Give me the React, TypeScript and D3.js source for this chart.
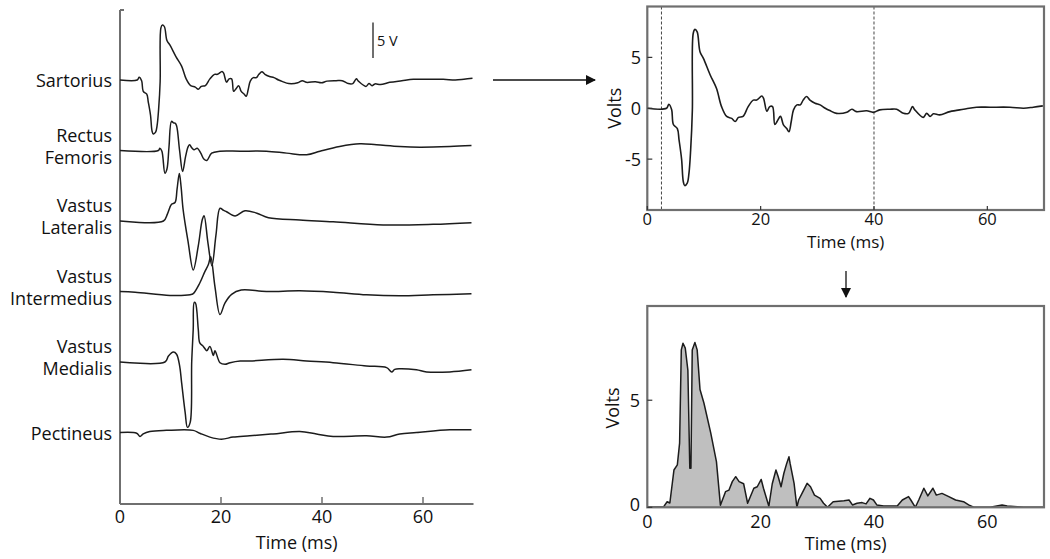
import React from "react";
import * as d3 from "d3";

type P = [number, number];

// Sartorius (also the single trace shown top-right), time in ms, volts
const sartorius: P[] = [
  [0, 0], [3.4, 0], [3.8, 0.4], [4.3, -0.15], [4.6, -1.6], [5.3, -2.0], [5.6, -3.1], [6.05, -5], [6.35, -7.2],
  [6.6, -7.6], [7.05, -7.35], [7.35, -6.4], [7.65, -4.1], [7.95, -0.2], [8.1, 7.35], [8.4, 7.75], [8.8, 7.5],
  [9.3, 5.55], [9.9, 4.9], [11.1, 3.27], [12.2, 1.96], [13.1, 0.16], [14, -0.8], [14.9, -1.0], [15.5, -1.3],
  [16.1, -0.9], [16.9, -0.8], [17.8, 0.16], [18.7, 0.8], [19.3, 0.8], [20.2, 1.2], [20.5, 1.0], [21.1, -0.3],
  [21.6, 0.16], [22.1, 0.16], [22.5, -1.6], [22.9, -1.3], [23.5, -0.8], [24, -1.6], [24.6, -2.0], [25, -2.3],
  [25.4, -1.3], [25.8, -0.16], [26.4, 0.33], [27, 0.33], [27.5, 0.8], [28.1, 1.15], [28.7, 0.8], [29.6, 0.5],
  [30.5, 0.33], [31.4, 0], [32.2, -0.23], [33.4, -0.5], [35.2, -0.4], [36.1, -0.1], [36.9, -0.33], [38.7, -0.25],
  [39.9, -0.4], [41, -0.16], [42.8, -0.1], [44, -0.1], [45.2, -0.5], [46.1, -0.5], [46.8, 0.16], [47.2, -0.16],
  [48.7, -0.9], [49.3, -0.5], [49.9, -0.8], [50.5, -0.55], [51.6, -0.65], [53.4, -0.33], [55.8, -0.1], [58.1, 0.1],
  [60.5, 0.1], [64, 0.1], [66.4, 0], [68.1, 0.1], [69.8, 0.23],
];

const rectusFemoris: P[] = [
  [0, 0], [7.6, 0], [7.9, 0.33], [8.3, -0.1], [8.9, -3.2], [9.3, -2.6], [9.7, 0.5], [10.2, 4.1], [10.6, 3.9],
  [10.9, 3.85], [11.2, 3.5], [11.8, 0], [12.4, -2.96], [13.0, -0.8], [13.5, 0.56], [13.8, 0.8], [14.2, 0.4],
  [14.65, 0.1], [15.3, 0.33], [16, -0.37], [16.6, -1.2], [17.2, -1.4], [18.15, -0.37], [19.8, -0.1], [23.8, -0.1],
  [29, -0.1], [33, -0.37], [36.96, -0.6], [39.6, -0.1], [43.5, 0.56], [47.5, 0.94], [50.8, 0.8], [55.4, 0.56],
  [59.4, 0.47], [65.3, 0.56], [69.6, 0.7],
];

const vastusLateralis: P[] = [
  [0, 0], [8.6, 0], [9.4, 1.0], [10.2, 2.35], [10.9, 2.6], [11.3, 4.5], [11.75, 6.7], [12.1, 4.8], [12.5, 1.6],
  [13.5, -3.0], [14.5, -6.9], [15.5, -3.5], [16.3, 0.2], [16.65, 0.75], [17.4, -3.0], [18.2, -6.3], [19.0, -2.0],
  [19.8, 1.8], [20.5, 1.5], [21.1, 1.3], [22.8, 0.7], [24.75, 1.45], [27.1, 1.1], [29.4, 0.47], [35.6, 0.14],
  [42.2, -0.1], [52.1, -0.56], [62, -0.47], [69.6, -0.23],
];

const vastusIntermedius: P[] = [
  [0, 0], [3, -0.1], [9.9, -0.55], [13.9, -0.45], [14.5, -0.3], [15.8, 1.2], [16.8, 2.8], [17.5, 3.8],
  [17.96, 4.9], [18.8, 0.7], [19.8, -3.25], [20.8, -1.6], [22.1, -0.4], [24, 0.2], [29, 0], [35.6, 0.1],
  [42.2, -0.1], [48.8, -0.47], [55.4, -0.6], [62, -0.47], [69.6, -0.33],
];

const vastusMedialis: P[] = [
  [0, 0], [8.9, 0], [9.6, 0.85], [10.56, 1.4], [11.2, 1.1], [11.8, -0.5], [12.2, -2.9], [12.9, -7.1],
  [13.35, -9.2], [13.9, -8.5], [14.2, 0], [14.5, 4.6], [14.7, 8.4], [14.95, 8.3], [15.5, 4.6], [15.8, 2.7],
  [16.5, 2.2], [17.2, 1.6], [17.8, 2.2], [18.5, 0.9], [18.8, 1.6], [19.8, -0.1], [20.8, -0.33], [21.8, -0.1],
  [23.8, 0.14], [25.7, 0.14], [32.3, 0.37], [36.96, 0.14], [42.2, -0.1], [48.8, -0.56], [52.8, -0.8],
  [53.8, -1.4], [54.4, -1.03], [55.4, -0.94], [58.7, -1.1], [60.7, -1.4], [65.3, -1.4], [69.6, -1.1],
];

const pectineus: P[] = [
  [0, 0], [3.3, -0.1], [3.96, -0.56], [4.6, -0.2], [5.9, 0.14], [9.2, 0.3], [14.5, 0.3], [15.8, -0.1],
  [17.8, -0.65], [20.1, -0.94], [22.4, -0.65], [25.7, -0.47], [30.3, -0.2], [35.6, 0.14], [38.9, -0.2],
  [42.2, -0.56], [48.8, -0.47], [52.8, -0.65], [55.4, -0.2], [58.7, 0], [65.3, 0.37], [69.6, 0.37],
];

// Rectified Sartorius signal (bottom-right)
const rectified: P[] = [
  [0, 0], [2.9, 0.03], [3.5, 0.26], [3.98, 0.2], [4.7, 1.74], [5.3, 1.98], [5.7, 3.0], [6.0, 7.35], [6.3, 7.66],
  [6.7, 7.43], [7.16, 6.4], [7.5, 1.82], [7.7, 1.82], [7.93, 7.35], [8.4, 7.7], [8.8, 7.35], [9.3, 5.5],
  [10.0, 4.86], [11.2, 3.46], [12.2, 2.13], [12.9, 0.1], [13.8, 0.73], [14.4, 0.8], [15.0, 1.2], [15.6, 1.43],
  [16.2, 1.2], [17.0, 1.1], [17.7, 0.19], [18.8, 0.89], [19.4, 0.96], [20.1, 1.3], [20.5, 0.89], [21.45, 0.05],
  [22.05, 1.1], [22.7, 1.74], [23.1, 1.43], [23.6, 0.96], [24.1, 1.59], [24.6, 2.05], [25.0, 2.36], [25.2, 2.05],
  [25.9, 1.12], [26.4, 0], [26.7, 0.34], [27.3, 0.65], [28.2, 1.12], [28.8, 0.96], [29.5, 0.57], [30.5, 0.42],
  [31.1, 0.19], [31.8, 0], [32.8, 0.26], [34.7, 0.31], [35.6, 0.34], [36.2, 0.11], [37.0, 0.19], [37.9, 0.22],
  [38.6, 0.16], [39.3, 0.42], [39.9, 0.34], [40.5, 0.11], [41.7, 0.06], [44.1, 0.06], [45.0, 0.34], [46.1, 0.5],
  [46.5, 0.34], [47.3, 0], [47.9, 0.34], [48.8, 0.89], [49.5, 0.53], [50.4, 0.89], [51.0, 0.57], [52.0, 0.65],
  [53.2, 0.5], [54.4, 0.34], [55.8, 0.26], [56.7, 0.11], [57.6, 0], [60.5, 0], [62.6, 0.11], [63.5, 0.06],
  [65.3, 0.03], [66.4, 0], [70, 0],
];

const muscles = [
  { lines: ["Sartorius"], data: sartorius },
  { lines: ["Rectus", "Femoris"], data: rectusFemoris },
  { lines: ["Vastus", "Lateralis"], data: vastusLateralis },
  { lines: ["Vastus", "Intermedius"], data: vastusIntermedius },
  { lines: ["Vastus", "Medialis"], data: vastusMedialis },
  { lines: ["Pectineus"], data: pectineus },
];

const timeTicks = [0, 20, 40, 60];
const voltTicksTop = [-5, 0, 5];
const voltTicksBottom = [0, 5];
const windowLines = [2.5, 40];
const scaleBarVolts = 5;

const FONT = "'Open Sans', sans-serif";
const TXT = "#111";
const AX = "#6f6f6f";
const TRACE = "#1c1c1c";
const FS = 18;

export default function App() {
  // Left panel
  const xL = d3.scaleLinear().domain([0, 70]).range([120, 473.5]);
  const baselineSpacing = 70.5;
  const firstBaseline = 80;
  const pxPerVolt = 7.1;
  const yL = (i: number) =>
    d3
      .scaleLinear()
      .domain([-10, 10])
      .range([firstBaseline + i * baselineSpacing + 10 * pxPerVolt, firstBaseline + i * baselineSpacing - 10 * pxPerVolt]);

  // Right panels
  const xR = d3.scaleLinear().domain([0, 70]).range([647.3, 1044]);
  const yT = d3.scaleLinear().domain([-10, 10]).range([210, 6.5]);
  const yB = d3.scaleLinear().domain([0, 9.4]).range([507.3, 306]);

  const smooth = d3.curveCatmullRom.alpha(0.5);
  const lineTop = d3.line<P>().x((d) => xR(d[0])).y((d) => yT(d[1])).curve(smooth);
  const lineBot = d3.line<P>().x((d) => xR(d[0])).y((d) => yB(d[1]));
  const areaBot = d3.area<P>().x((d) => xR(d[0])).y0(yB(0)).y1((d) => yB(d[1]));

  const leftAxisY = 504;
  const sbTop = 22.5;

  return (
    <svg width={1050} height={559} style={{ position: "absolute", left: 0, top: 0, background: "#fff" }} fontFamily={FONT}>
      <defs>
        <marker id="ah" viewBox="0 0 10 10" refX="9" refY="5" markerWidth="10" markerHeight="10" markerUnits="userSpaceOnUse" orient="auto">
          <path d="M0,0 L10,5 L0,10 z" fill="#111" />
        </marker>
      </defs>

      {/* LEFT PANEL */}
      <line x1={xL(0)} x2={xL(0)} y1={10} y2={leftAxisY} stroke={AX} strokeWidth={2} />
      <line x1={xL(0)} x2={xL(0) + 4} y1={10} y2={10} stroke={AX} strokeWidth={2} />
      <line x1={xL(0)} x2={xL(70)} y1={leftAxisY} y2={leftAxisY} stroke={AX} strokeWidth={2} />
      {timeTicks.map((t) => (
        <g key={"lt" + t}>
          {t > 0 && <line x1={xL(t)} x2={xL(t)} y1={leftAxisY} y2={leftAxisY - 7} stroke={AX} strokeWidth={1.5} />}
          <text x={xL(t)} y={516} textAnchor="middle" dominantBaseline="central" fontSize={FS} fill={TXT}>
            {t}
          </text>
        </g>
      ))}
      <text x={xL(35)} y={542} textAnchor="middle" dominantBaseline="central" fontSize={FS} fill={TXT}>
        Time (ms)
      </text>

      {muscles.map((m, i) => {
        const y = yL(i);
        const base = y(0);
        const line = d3.line<P>().x((d) => xL(d[0])).y((d) => y(d[1])).curve(smooth);
        return (
          <g key={m.lines.join(" ")}>
            <path d={line(m.data) || ""} fill="none" stroke={TRACE} strokeWidth={1.5} strokeLinejoin="round" />
            {m.lines.length === 1 ? (
              <text x={112} y={base} textAnchor="end" dominantBaseline="central" fontSize={FS} fill={TXT}>
                {m.lines[0]}
              </text>
            ) : (
              m.lines.map((s, k) => (
                <text key={s} x={112} y={base - 16 + k * 22} textAnchor="end" dominantBaseline="central" fontSize={FS} fill={TXT}>
                  {s}
                </text>
              ))
            )}
          </g>
        );
      })}

      {/* scale bar */}
      <line x1={373} x2={373} y1={sbTop} y2={sbTop + (yL(0)(0) - yL(0)(scaleBarVolts))} stroke={AX} strokeWidth={2} />
      <text x={377} y={40} dominantBaseline="central" fontSize={14.5} fill={TXT}>
        {scaleBarVolts} V
      </text>

      {/* arrows */}
      <line x1={493} x2={595} y1={80} y2={80} stroke="#111" strokeWidth={1.3} markerEnd="url(#ah)" />
      <line x1={846} x2={846} y1={271} y2={297} stroke="#111" strokeWidth={1.3} markerEnd="url(#ah)" />

      {/* TOP RIGHT */}
      {windowLines.map((t) => (
        <line key={"w" + t} x1={xR(t)} x2={xR(t)} y1={yT(10)} y2={yT(-10)} stroke="#444" strokeWidth={1} strokeDasharray="3,2" />
      ))}
      <path d={lineTop(sartorius) || ""} fill="none" stroke={TRACE} strokeWidth={1.6} strokeLinejoin="round" />
      <rect x={xR(0)} y={yT(10)} width={xR(70) - xR(0)} height={yT(-10) - yT(10)} fill="none" stroke={AX} strokeWidth={2.2} />
      {voltTicksTop.map((v) => (
        <g key={"vt" + v}>
          <line x1={xR(0)} x2={xR(0) + 5} y1={yT(v)} y2={yT(v)} stroke="#333" strokeWidth={1.2} />
          <text x={641} y={yT(v)} textAnchor="end" dominantBaseline="central" fontSize={FS} fill={TXT}>
            {v}
          </text>
        </g>
      ))}
      {timeTicks.map((t) => (
        <g key={"tt" + t}>
          <line x1={xR(t)} x2={xR(t)} y1={yT(-10)} y2={yT(-10) - 4} stroke="#333" strokeWidth={1.2} />
          <text x={xR(t)} y={218.5} textAnchor="middle" dominantBaseline="central" fontSize={16.5} fill={TXT}>
            {t}
          </text>
        </g>
      ))}
      <text x={xR(35)} y={241.5} textAnchor="middle" dominantBaseline="central" fontSize={17} fill={TXT}>
        Time (ms)
      </text>
      <text transform={`translate(614,${yT(0)}) rotate(-90)`} textAnchor="middle" dominantBaseline="central" fontSize={FS} fill={TXT}>
        Volts
      </text>

      {/* BOTTOM RIGHT */}
      <path d={areaBot(rectified) || ""} fill="#bfbfbf" stroke="none" />
      <path d={lineBot(rectified) || ""} fill="none" stroke={TRACE} strokeWidth={1.5} strokeLinejoin="round" />
      <rect x={xR(0)} y={yB(9.4)} width={xR(70) - xR(0)} height={yB(0) - yB(9.4)} fill="none" stroke={AX} strokeWidth={2.2} />
      {voltTicksBottom.map((v) => (
        <g key={"vb" + v}>
          <line x1={xR(0)} x2={xR(0) + 5} y1={yB(v)} y2={yB(v)} stroke="#333" strokeWidth={1.2} />
          <text x={640} y={v === 0 ? yB(v) - 3 : yB(v)} textAnchor="end" dominantBaseline="central" fontSize={FS} fill={TXT}>
            {v}
          </text>
        </g>
      ))}
      {timeTicks.map((t) => (
        <g key={"tb" + t}>
          <text x={xR(t)} y={521} textAnchor="middle" dominantBaseline="central" fontSize={FS} fill={TXT}>
            {t}
          </text>
        </g>
      ))}
      <text x={xR(35)} y={543} textAnchor="middle" dominantBaseline="central" fontSize={FS} fill={TXT}>
        Time (ms)
      </text>
      <text transform={`translate(612,408) rotate(-90)`} textAnchor="middle" dominantBaseline="central" fontSize={FS} fill={TXT}>
        Volts
      </text>
    </svg>
  );
}
